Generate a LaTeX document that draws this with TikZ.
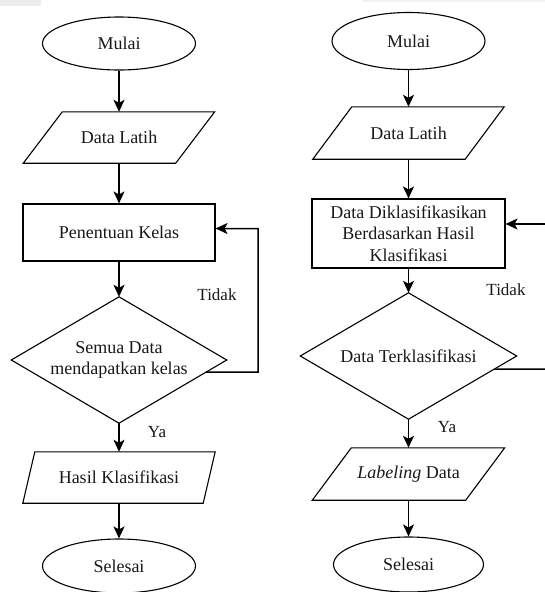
\documentclass[tikz,border=0pt]{standalone}
\usepackage{fontspec}
\setmainfont{Liberation Serif}
\usetikzlibrary{shapes.geometric,arrows.meta,calc}
\begin{document}
\begin{tikzpicture}[x=1pt,y=-1pt,
  every node/.style={font=\fontsize{18}{21.5}\selectfont, text=black!90},
  term/.style={ellipse, draw, line width=1.1pt, inner sep=0pt},
  box/.style={rectangle, draw, line width=1.1pt, inner sep=0pt, align=center},
  hid/.style={rectangle, inner sep=0pt, align=center},
  shp/.style={line width=1.1pt, line join=miter},
  arr/.style={line width=1.5pt, -{Stealth[length=12pt,width=11pt,inset=3pt]}},
  lbl/.style={inner sep=0pt, font=\fontsize{17}{20}\selectfont}]
\useasboundingbox (0,0) rectangle (545,592);
\fill[white] (0,0) rectangle (545,592);
\fill[black!7] (0,0) rectangle (41,6);
\fill[black!5] (363,0) rectangle (545,2);

% ---------- left column ----------
\node[term, minimum width=153pt, minimum height=53pt] (m1) at (119,43.5) {Mulai};
\node[hid, minimum width=152pt, minimum height=51pt] (p1) at (119,137.5) {Data Latih};
\draw[shp] ([xshift=19.5pt]p1.north west) -- ([xshift=19.5pt]p1.north east)
  -- ([xshift=-19.5pt]p1.south east) -- ([xshift=-19.5pt]p1.south west) -- cycle;
\node[box, minimum width=192pt, minimum height=57pt] (r1) at (119,232.5) {Penentuan Kelas};
\node[hid, minimum width=215pt, minimum height=126pt] (d1) at (119,360) {Semua Data\\mendapatkan kelas};
\draw[shp] (d1.north) -- (d1.east) -- (d1.south) -- (d1.west) -- cycle;
\node[hid, minimum width=180pt, minimum height=51pt] (p2) at (119,477.5) {Hasil Klasifikasi};
\draw[shp] ([xshift=6pt]p2.north west) -- ([xshift=6pt]p2.north east)
  -- ([xshift=-6pt]p2.south east) -- ([xshift=-6pt]p2.south west) -- cycle;
\node[term, minimum width=153pt, minimum height=54pt] (e1) at (119,566) {Selesai};

\draw[arr] (m1.south) -- (p1.north);
\draw[arr] (p1.south) -- (r1.north);
\draw[arr] (r1.south) -- (d1.north);
\draw[arr] (d1.south) -- (p2.north);
\draw[arr] (p2.south) -- (e1.north);
\coordinate (s1) at ($(d1.east)!0.19!(d1.south)$);
\coordinate (c1) at (258,372);
\draw[arr] (s1) -- (c1) |- ([yshift=4pt]r1.east);
\node[lbl] (t1) at (217,295) {Tidak};
\node[lbl] (y1) at (157,432) {Ya};

% ---------- right column ----------
\node[term, minimum width=153pt, minimum height=57pt] (m2) at (408.5,41) {Mulai};
\node[hid, minimum width=152pt, minimum height=52pt] (p3) at (408.5,133) {Data Latih};
\draw[shp] ([xshift=19.5pt]p3.north west) -- ([xshift=19.5pt]p3.north east)
  -- ([xshift=-19.5pt]p3.south east) -- ([xshift=-19.5pt]p3.south west) -- cycle;
\node[box, minimum width=193pt, minimum height=69pt] (r2) at (408.5,233.5) {Data Diklasifikasikan\\Berdasarkan Hasil\\Klasifikasi};
\node[hid, minimum width=216pt, minimum height=126pt] (d2) at (408.5,356) {Data Terklasifikasi};
\draw[shp] (d2.north) -- (d2.east) -- (d2.south) -- (d2.west) -- cycle;
\node[hid, minimum width=153pt, minimum height=52pt] (p4) at (408.5,474) {\textit{Labeling} Data};
\draw[shp] ([xshift=19.5pt]p4.north west) -- ([xshift=19.5pt]p4.north east)
  -- ([xshift=-19.5pt]p4.south east) -- ([xshift=-19.5pt]p4.south west) -- cycle;
\node[term, minimum width=150pt, minimum height=55pt] (e2) at (408.5,564.5) {Selesai};

\draw[arr] (m2.south) -- (p3.north);
\draw[arr] (p3.south) -- (r2.north);
\draw[arr] (r2.south) -- (d2.north);
\draw[arr] (d2.south) -- (p4.north);
\draw[arr] (p4.south) -- (e2.north);
\coordinate (s2) at ($(d2.east)!0.206!(d2.south)$);
\coordinate (c2) at (545,369);
\draw[line width=1.5pt] (s2) -- (c2);
\coordinate (c3) at (545,224);
\draw[arr] (c3) -- ([yshift=9.5pt]r2.east);
\node[lbl] (t2) at (506,290) {Tidak};
\node[lbl] (y2) at (447,427) {Ya};
\end{tikzpicture}
\end{document}
